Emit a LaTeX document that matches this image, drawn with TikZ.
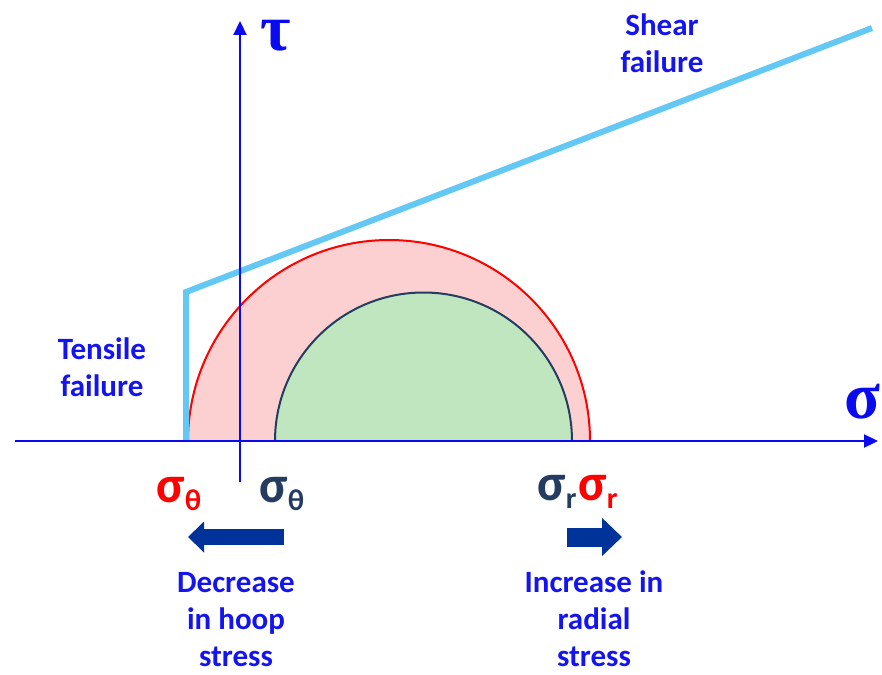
\documentclass[tikz,border=0pt]{standalone}
\usepackage{fontspec}
\setmainfont{Carlito}
\newfontfamily\serifgreek{Liberation Serif}
\usetikzlibrary{arrows.meta,patterns}
\definecolor{axisblue}{RGB}{10,10,240}
\definecolor{failblue}{RGB}{100,200,245}
\definecolor{navy}{RGB}{35,60,95}
\definecolor{greenfill}{RGB}{192,230,192}
\definecolor{pinkfill}{RGB}{252,208,208}
\definecolor{arrowblue}{RGB}{0,51,153}
\definecolor{textblue}{RGB}{20,20,240}
\newcommand{\sgsub}[1]{\raisebox{-8pt}{\fontsize{30}{30}\selectfont #1}}
\tikzset{
  lbl/.style={font=\bfseries\fontsize{31}{37}\selectfont, text=textblue, align=center, inner sep=1pt},
  sig/.style={font=\bfseries\fontsize{52}{52}\selectfont, inner sep=0pt},
}
\begin{document}
\begin{tikzpicture}[x=1pt,y=-1pt]
\useasboundingbox (0,0) rectangle (882,674);
% circles
\fill[pinkfill] (188,441) arc[start angle=180,end angle=360,radius=201] -- cycle;
\draw[red, line width=2pt] (188,441) arc[start angle=180,end angle=360,radius=201];
\fill[greenfill] (275,441) arc[start angle=180,end angle=360,radius=148.5] -- cycle;
\draw[navy, line width=2pt] (275,441) arc[start angle=180,end angle=360,radius=148.5];
% failure envelope
\coordinate (f0) at (186,441);
\coordinate (f1) at (186,292);
\coordinate (f2) at (872,28);
\draw[failblue, line width=6pt] (f0) -- (f1) -- (f2);
% axes
\coordinate (xa) at (15,441);
\coordinate (xb) at (878,441);
\coordinate (ya) at (240,482);
\coordinate (yb) at (240,21);
\draw[axisblue, line width=2.2pt, -{Triangle[length=14pt,width=13pt]}] (xa) -- (xb);
\draw[axisblue, line width=2.2pt, -{Triangle[length=14pt,width=13pt]}] (ya) -- (yb);
\node[text=axisblue, font=\serifgreek\bfseries\fontsize{66}{66}\selectfont] (tau) at (276,36) {τ};
\node[text=axisblue, font=\serifgreek\bfseries\fontsize{66}{66}\selectfont] (sigax) at (862,402) {σ};
% labels
\node[lbl] (tens) at (102,367) {Tensile\\failure};
\node[lbl] (shear) at (662,43) {Shear\\failure};
\node[sig, text=red] (s1) at (179,494) {σ\sgsub{θ}};
\node[sig, text=navy] (s2) at (282,494) {σ\sgsub{θ}};
\node[sig, text=navy] (s3) at (557,492) {σ\sgsub{r}};
\node[sig, text=red] (s4) at (598,492) {σ\sgsub{r}};
% arrows
\coordinate (a1) at (284,537);
\coordinate (a2) at (188,537);
\coordinate (b1) at (567,537);
\coordinate (b2) at (622,537);
\draw[line width=16pt, arrowblue, -{Triangle[length=16pt,width=30pt]}] (a1) -- (a2);
\draw[line width=19pt, arrowblue, -{Triangle[length=20pt,width=37pt]}] (b1) -- (b2);
\node[lbl] (dec) at (236,620) {Decrease\\in hoop\\stress};
\node[lbl] (inc) at (594,619) {Increase in\\radial\\stress};
\end{tikzpicture}
\end{document}
